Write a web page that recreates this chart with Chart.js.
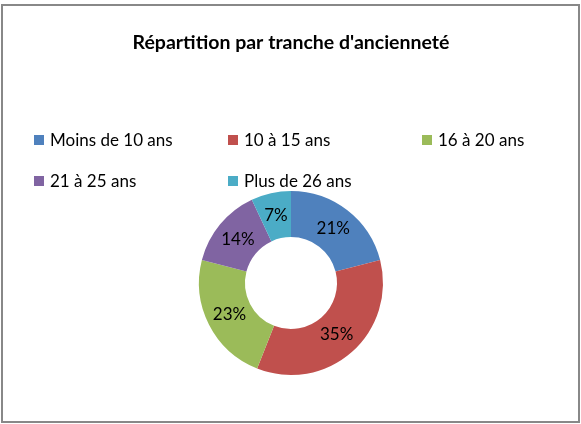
<!DOCTYPE html>
<html>
<head>
<meta charset="utf-8">
<script src="https://cdn.jsdelivr.net/npm/chart.js@4.4.0/dist/chart.umd.min.js"></script>
<style>
    body { margin: 0; background: #fff; }
    #frame {
        position: absolute;
        left: 1px;
        top: 4px;
        width: 575px;
        height: 415px;
        border: 2px solid #888888;
        background: #fff;
    }
    canvas { display: block; }
</style>
</head>
<body>
<div id="frame"><canvas id="chart" width="575" height="415"></canvas></div>
<script>
const labels = [ 'Moins de 10 ans', '10 à 15 ans', '16 à 20 ans', '21 à 25 ans', 'Plus de 26 ans' ];
const values = [ 21, 35, 23, 14, 7 ];
const colors = [ '#4F81BD', '#C0504D', '#9BBB59', '#8064A2', '#4BACC6' ];

const Fonts = {
    family: 'Lato, "Liberation Sans", sans-serif',
    text: '#000000'
};

// legend in a 3 column grid, like the office one
const gridLegend = {
    id: 'gridLegend',
    afterDraw( chart ) {
        const
            ctx = chart.ctx,
            cols = [ 31, 225, 419 ],
            rows = [ 134, 175 ],
            box = 10;
        ctx.save();
        ctx.font = '17px ' + Fonts.family;
        ctx.textBaseline = 'middle';
        chart.data.labels.forEach( ( label, i ) => {
            const
                x = cols[ i % 3 ],
                y = rows[ Math.floor( i / 3 ) ];
            ctx.fillStyle = chart.data.datasets[ 0 ].backgroundColor[ i ];
            ctx.fillRect( x, y - box / 2, box, box );
            ctx.fillStyle = Fonts.text;
            ctx.fillText( label, x + box + 6, y + 1 );
        } );
        ctx.restore();
    }
};

// percentage labels in the middle of each slice
const sliceLabels = {
    id: 'sliceLabels',
    afterDatasetsDraw( chart ) {
        const
            ctx = chart.ctx,
            data = chart.data.datasets[ 0 ].data,
            total = data.reduce( ( a, b ) => a + b, 0 );
        ctx.save();
        ctx.font = '17px ' + Fonts.family;
        ctx.fillStyle = Fonts.text;
        ctx.textAlign = 'center';
        ctx.textBaseline = 'middle';
        chart.getDatasetMeta( 0 ).data.forEach( ( arc, i ) => {
            const p = arc.getCenterPoint();
            ctx.fillText( Math.round( data[ i ] / total * 100 ) + '%', p.x, p.y );
        } );
        ctx.restore();
    }
};

new Chart( document.getElementById( 'chart' ), {
    type: 'doughnut',
    data: {
        labels: labels,
        datasets: [ {
            data: values,
            backgroundColor: colors,
            borderWidth: 0
        } ]
    },
    options: {
        responsive: false,
        animation: false,
        cutout: '50%',
        layout: {
            padding: { left: 1, right: 0, top: 0, bottom: 46 }
        },
        plugins: {
            legend: { display: false },
            tooltip: { enabled: false },
            title: {
                display: true,
                text: "Répartition par tranche d'ancienneté",
                color: Fonts.text,
                font: { family: Fonts.family, size: 19.5, weight: 'bold', lineHeight: 1.2 },
                padding: { top: 25, bottom: 136.6 }
            }
        }
    },
    plugins: [ gridLegend, sliceLabels ]
} );
</script>
</body>
</html>
